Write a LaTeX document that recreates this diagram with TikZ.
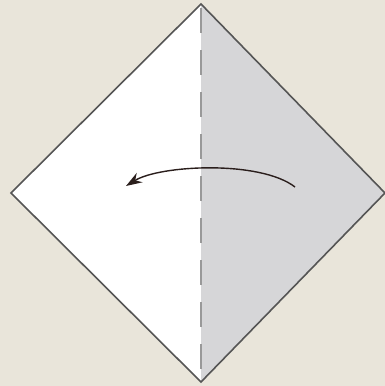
\documentclass[tikz,border=0pt]{standalone}
\usetikzlibrary{arrows.meta}
\definecolor{bg}{HTML}{E9E5DA}
\definecolor{paperback}{HTML}{D6D6D8}
\definecolor{edge}{HTML}{555555}
\definecolor{arrowc}{HTML}{2A1E1C}
\tikzset{
  foldedge/.style={draw=edge, line width=1.6pt, line join=miter},
  valley/.style={draw=gray!80, line width=1.8pt, dash pattern=on 25pt off 17pt, dash phase=-4pt},
  movearrow/.style={draw=arrowc, line width=1.4pt, -{Stealth[length=16pt,width=11pt]}}
}
\begin{document}
\begin{tikzpicture}[x=1pt,y=-1pt]
\useasboundingbox (0,0) rectangle (385,386);
\fill[bg] (0,0) rectangle (385,386);
\coordinate (T) at (201,4);
\coordinate (L) at (11,193);
\coordinate (B) at (201,382);
\coordinate (R) at (385,193);
\fill[white] (T) -- (L) -- (B) -- cycle;
\fill[paperback] (T) -- (R) -- (B) -- cycle;
\path[valley] (T) -- (B);
\path[foldedge] (T) -- (L) -- (B) -- (R) -- cycle;
\coordinate (s) at (295,187);
\coordinate (e) at (126,186);
\path[movearrow] (s) .. controls (260,160) and (160,165) .. (e);
\end{tikzpicture}
\end{document}
